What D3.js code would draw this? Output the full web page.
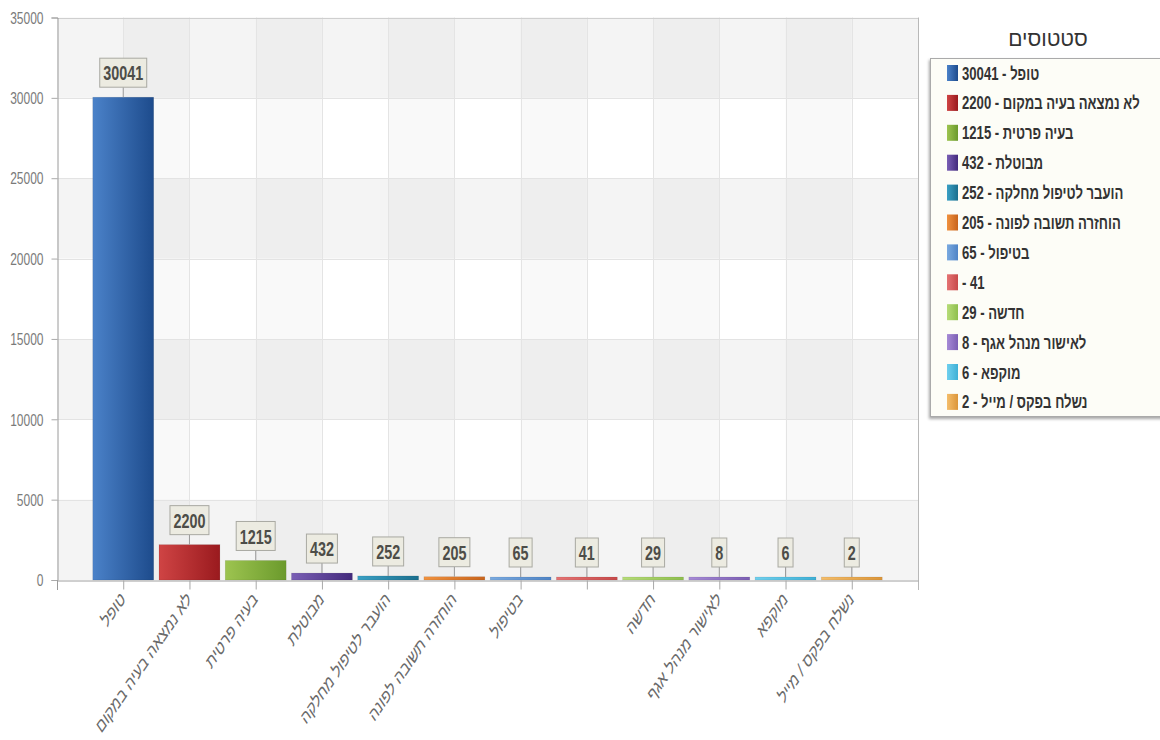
<!DOCTYPE html>
<html>
<head>
<meta charset="utf-8">
<script src="https://cdn.jsdelivr.net/npm/d3@7"></script>
<style>
  html, body { margin: 0; padding: 0; background: #fff; }
  svg { display: block; font-family: "Liberation Sans", Arial, sans-serif; }
</style>
</head>
<body>
<svg id="chart" width="1160" height="740"></svg>
<script>
// Ticket status counts
const categories = [
  "טופל",
  "לא נמצאה בעיה במקום",
  "בעיה פרטית",
  "מבוטלת",
  "הועבר לטיפול מחלקה",
  "הוחזרה תשובה לפונה",
  "בטיפול",
  "",
  "חדשה",
  "לאישור מנהל אגף",
  "מוקפא",
  "נשלח בפקס / מייל"
];
const values = [30041, 2200, 1215, 432, 252, 205, 65, 41, 29, 8, 6, 2];
const yTicks = [0, 5000, 10000, 15000, 20000, 25000, 30000, 35000];
const legendTitle = "סטטוסים";

// light / dark gradient stops for each series colour
const palette = [
  ["#4b82c9", "#1d4b8c"],
  ["#cf4444", "#9a1a1e"],
  ["#9dc450", "#6b9a2c"],
  ["#7a5fb5", "#432a7c"],
  ["#3aa0c4", "#1b6f8e"],
  ["#f0913e", "#c8641c"],
  ["#7aaae0", "#4f84c6"],
  ["#e57373", "#c84a4a"],
  ["#b6dc78", "#8fbf4e"],
  ["#a68ad6", "#7c5fb4"],
  ["#6fd0ee", "#3eb0d6"],
  ["#f4bd6a", "#dc963a"]
];

const plot = { left: 57, right: 918, top: 17.5, bottom: 580 };
const svg = d3.select("#chart");
const defs = svg.append("defs");

palette.forEach((c, i) => {
  const g = defs.append("linearGradient").attr("id", "grad" + i)
    .attr("x1", 0).attr("x2", 1).attr("y1", 0).attr("y2", 0);
  g.append("stop").attr("offset", "0%").attr("stop-color", c[0]);
  g.append("stop").attr("offset", "100%").attr("stop-color", c[1]);
});

const shadow = defs.append("filter").attr("id", "shadow")
  .attr("x", "-10%").attr("y", "-10%").attr("width", "130%").attr("height", "130%");
shadow.append("feDropShadow").attr("dx", -1).attr("dy", 2)
  .attr("stdDeviation", 1.5).attr("flood-color", "#000").attr("flood-opacity", 0.35);

const x = d3.scalePoint().domain(categories).range([plot.left, plot.right]).padding(1);
const y = d3.scaleLinear().domain([0, 35000]).range([plot.bottom, plot.top]);
const step = x.step();
const barW = step * 0.92;

// alternating plot bands
const bg = svg.append("g");
bg.selectAll("rect.hband")
  .data(d3.pairs(yTicks).filter((_, i) => i % 2 === 0))
  .join("rect")
  .attr("x", plot.left).attr("width", plot.right - plot.left)
  .attr("y", d => y(d[1])).attr("height", d => y(d[0]) - y(d[1]))
  .attr("fill", "#000").attr("opacity", 0.045);

const colEdges = [plot.left, ...categories.map(c => x(c)), plot.right];
bg.selectAll("rect.vband")
  .data(d3.pairs(colEdges).filter((_, i) => i % 2 === 1))
  .join("rect")
  .attr("x", d => d[0]).attr("width", d => d[1] - d[0])
  .attr("y", plot.top).attr("height", plot.bottom - plot.top)
  .attr("fill", "#000").attr("opacity", 0.025);

// grid lines
bg.selectAll("line.hgrid")
  .data(yTicks.slice(1))
  .join("line")
  .attr("x1", plot.left).attr("x2", plot.right)
  .attr("y1", d => Math.round(y(d)) + 0.5).attr("y2", d => Math.round(y(d)) + 0.5)
  .attr("stroke", "#e3e3e3");

bg.selectAll("line.vgrid")
  .data(categories)
  .join("line")
  .attr("x1", d => Math.round(x(d)) + 0.5).attr("x2", d => Math.round(x(d)) + 0.5)
  .attr("y1", plot.top).attr("y2", plot.bottom)
  .attr("stroke", "#e4e4e4");

// frame
bg.append("line")
  .attr("x1", plot.left).attr("x2", plot.right)
  .attr("y1", Math.round(plot.top) + 0.5).attr("y2", Math.round(plot.top) + 0.5)
  .attr("stroke", "#cfcfcf");
bg.append("line")
  .attr("x1", plot.right + 0.5).attr("x2", plot.right + 0.5)
  .attr("y1", plot.top).attr("y2", plot.bottom + 10)
  .attr("stroke", "#b8b8b8");

// y axis
const yAxis = svg.append("g")
  .attr("transform", `translate(${plot.left + 0.5},0)`)
  .call(d3.axisLeft(y).tickValues(yTicks).tickSize(6).tickFormat(d3.format("d")));
yAxis.select(".domain").attr("stroke", "#9a9a9a");
yAxis.selectAll(".tick line").attr("stroke", "#aaa");
yAxis.selectAll(".tick text")
  .attr("font-size", 16)
  .attr("font-family", "'Liberation Sans', Arial, sans-serif")
  .attr("fill", "#7a7a7a")
  .attr("x", -14 / 0.75)
  .attr("dy", "0.36em")
  .attr("transform", "scale(0.75,1)");
yAxis.append("line")
  .attr("x1", 0).attr("x2", 0).attr("y1", plot.bottom).attr("y2", plot.bottom + 10)
  .attr("stroke", "#9a9a9a");

// x axis
const xAxis = svg.append("g")
  .attr("transform", `translate(0,${plot.bottom + 0.5})`)
  .call(d3.axisBottom(x).tickSize(9).tickSizeOuter(0));
xAxis.select(".domain").attr("stroke", "#a0a0a0");
xAxis.selectAll(".tick line").attr("stroke", "#a8a8a8");
xAxis.selectAll(".tick text")
  .attr("font-size", 19.5)
  .attr("font-family", "'Liberation Sans', Arial, sans-serif")
  .attr("fill", "#6a6a6a")
  .attr("text-anchor", "end")
  .attr("x", 0).attr("y", 0).attr("dy", "0.35em")
  .attr("transform", "translate(-1,15) scale(0.68,1) rotate(-45)");

// bars
const minH = 3;
const barTop = v => Math.min(y(v), plot.bottom - minH);
svg.append("g").selectAll("rect")
  .data(values)
  .join("rect")
  .attr("x", (d, i) => x(categories[i]) - barW / 2)
  .attr("width", barW)
  .attr("y", d => barTop(d))
  .attr("height", d => plot.bottom - barTop(d))
  .attr("fill", (d, i) => `url(#grad${i})`)
  .attr("stroke", "rgba(0,0,0,0.12)")
  .attr("stroke-width", 0.6);

// value labels
const lblK = 0.685, lblH = 29, lblGap = 10;
const labels = svg.append("g").selectAll("g")
  .data(values)
  .join("g");
labels.each(function (v, i) {
  const g = d3.select(this);
  const cx = x(categories[i]);
  const top = barTop(v);
  const boxBottom = top - lblGap;
  const cy = boxBottom - lblH / 2;
  g.append("line")
    .attr("x1", cx).attr("x2", cx).attr("y1", boxBottom).attr("y2", top)
    .attr("stroke", "#9a9a9a");
  const rect = g.append("rect");
  const t = g.append("text")
    .attr("text-anchor", "middle")
    .attr("dy", "0.36em")
    .attr("font-size", 21)
    .attr("font-weight", "bold")
    .attr("fill", "#4d4d48")
    .attr("transform", `translate(${cx},${cy}) scale(${lblK},1)`)
    .text(v);
  const w = t.node().getComputedTextLength() * lblK + 7;
  rect.attr("x", cx - w / 2).attr("y", boxBottom - lblH)
    .attr("width", w).attr("height", lblH)
    .attr("fill", "#ecebe1").attr("stroke", "#a9a9a2");
});

// legend
const legend = svg.append("g");
legend.append("text")
  .attr("x", 1048).attr("y", 46)
  .attr("text-anchor", "middle")
  .attr("font-size", 21)
  .attr("font-weight", 500)
  .attr("fill", "#333")
  .text(legendTitle);
legend.append("rect")
  .attr("x", 930.5).attr("y", 58.5).attr("width", 250).attr("height", 358)
  .attr("fill", "#fdfdf7").attr("stroke", "#aaa")
  .attr("filter", "url(#shadow)");

const rowY = i => 73 + i * 29.9;
const items = legend.selectAll("g.item")
  .data(values)
  .join("g");
items.append("rect")
  .attr("x", 947).attr("y", (d, i) => rowY(i) - 8)
  .attr("width", 11).attr("height", 16)
  .attr("fill", (d, i) => `url(#grad${i})`);
items.append("text")
  .attr("font-size", 17.5)
  .attr("font-weight", "bold")
  .attr("fill", "#333")
  .attr("transform", (d, i) => `translate(962,${rowY(i) + 6.5}) scale(0.75,1)`)
  .text((d, i) => `${categories[i]} - ${d}`.trim());
</script>
</body>
</html>
